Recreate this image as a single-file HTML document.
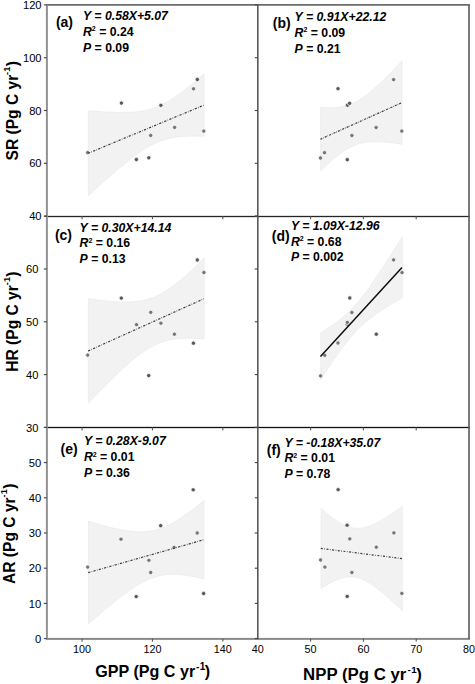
<!DOCTYPE html>
<html><head><meta charset="utf-8"><style>
html,body{margin:0;padding:0;background:#fff;}
body{width:475px;height:684px;overflow:hidden;}
svg{display:block;font-family:"Liberation Sans",sans-serif;}
text{fill:#000;}
</style></head><body>
<svg width="475" height="684" viewBox="0 0 475 684">
<rect width="475" height="684" fill="#fff"/>
<path d="M88.30,110.63 L91.19,110.88 L94.09,111.12 L96.98,111.35 L99.88,111.56 L102.78,111.76 L105.67,111.94 L108.56,112.10 L111.46,112.23 L114.36,112.34 L117.25,112.41 L120.15,112.46 L123.04,112.46 L125.94,112.42 L128.83,112.32 L131.73,112.17 L134.62,111.95 L137.52,111.65 L140.41,111.27 L143.31,110.78 L146.20,110.19 L149.10,109.48 L151.99,108.63 L154.88,107.65 L157.78,106.53 L160.68,105.26 L163.57,103.84 L166.47,102.29 L169.36,100.61 L172.25,98.80 L175.15,96.89 L178.05,94.87 L180.94,92.77 L183.84,90.59 L186.73,88.34 L189.62,86.03 L192.52,83.67 L195.42,81.27 L198.31,78.82 L201.21,76.34 L204.10,73.83 L204.10,136.32 L201.21,136.22 L198.31,136.15 L195.42,136.11 L192.52,136.11 L189.62,136.15 L186.73,136.25 L183.84,136.41 L180.94,136.64 L178.05,136.94 L175.15,137.33 L172.25,137.83 L169.36,138.43 L166.47,139.15 L163.57,140.01 L160.68,141.00 L157.78,142.14 L154.88,143.42 L151.99,144.84 L149.10,146.41 L146.20,148.10 L143.31,149.92 L140.41,151.84 L137.52,153.86 L134.62,155.97 L131.73,158.16 L128.83,160.41 L125.94,162.72 L123.04,165.09 L120.15,167.50 L117.25,169.95 L114.36,172.43 L111.46,174.95 L108.56,177.49 L105.67,180.05 L102.78,182.64 L99.88,185.24 L96.98,187.86 L94.09,190.50 L91.19,193.15 L88.30,195.81 Z" fill="#f2f2f2" stroke="#e4e4e4" stroke-width="0.5"/>
<path d="M320.60,107.27 L322.64,107.44 L324.67,107.57 L326.71,107.66 L328.75,107.71 L330.79,107.71 L332.82,107.66 L334.86,107.55 L336.90,107.38 L338.94,107.13 L340.97,106.81 L343.01,106.41 L345.05,105.92 L347.09,105.34 L349.12,104.66 L351.16,103.88 L353.20,103.00 L355.24,102.01 L357.27,100.92 L359.31,99.74 L361.35,98.46 L363.39,97.08 L365.43,95.63 L367.46,94.09 L369.50,92.48 L371.54,90.80 L373.57,89.06 L375.61,87.26 L377.65,85.41 L379.69,83.52 L381.73,81.58 L383.76,79.61 L385.80,77.60 L387.84,75.57 L389.88,73.50 L391.91,71.41 L393.95,69.30 L395.99,67.17 L398.03,65.02 L400.06,62.85 L402.10,60.67 L402.10,144.46 L400.06,144.10 L398.03,143.76 L395.99,143.44 L393.95,143.14 L391.91,142.85 L389.88,142.59 L387.84,142.35 L385.80,142.14 L383.76,141.97 L381.73,141.82 L379.69,141.71 L377.65,141.65 L375.61,141.62 L373.57,141.65 L371.54,141.74 L369.50,141.89 L367.46,142.10 L365.43,142.39 L363.39,142.76 L361.35,143.22 L359.31,143.76 L357.27,144.41 L355.24,145.15 L353.20,145.99 L351.16,146.93 L349.12,147.98 L347.09,149.13 L345.05,150.37 L343.01,151.71 L340.97,153.13 L338.94,154.64 L336.90,156.22 L334.86,157.88 L332.82,159.60 L330.79,161.37 L328.75,163.20 L326.71,165.08 L324.67,167.00 L322.64,168.95 L320.60,170.95 Z" fill="#f2f2f2" stroke="#e4e4e4" stroke-width="0.5"/>
<path d="M88.30,298.52 L91.20,298.96 L94.09,299.38 L96.99,299.78 L99.89,300.16 L102.79,300.51 L105.69,300.83 L108.58,301.13 L111.48,301.39 L114.38,301.61 L117.28,301.79 L120.17,301.93 L123.07,302.00 L125.97,302.02 L128.87,301.96 L131.76,301.82 L134.66,301.60 L137.56,301.27 L140.46,300.84 L143.35,300.28 L146.25,299.59 L149.15,298.76 L152.05,297.78 L154.94,296.64 L157.84,295.34 L160.74,293.88 L163.63,292.26 L166.53,290.49 L169.43,288.58 L172.33,286.53 L175.23,284.36 L178.12,282.08 L181.02,279.70 L183.92,277.23 L186.81,274.68 L189.71,272.06 L192.61,269.38 L195.51,266.64 L198.41,263.85 L201.30,261.02 L204.20,258.15 L204.20,339.18 L201.30,338.92 L198.41,338.70 L195.51,338.53 L192.61,338.40 L189.71,338.33 L186.81,338.32 L183.92,338.38 L181.02,338.52 L178.12,338.76 L175.23,339.09 L172.33,339.53 L169.43,340.10 L166.53,340.80 L163.63,341.64 L160.74,342.64 L157.84,343.79 L154.94,345.10 L152.05,346.57 L149.15,348.20 L146.25,349.98 L143.35,351.90 L140.46,353.96 L137.56,356.14 L134.66,358.43 L131.76,360.81 L128.87,363.29 L125.97,365.85 L123.07,368.47 L120.17,371.16 L117.28,373.90 L114.38,376.70 L111.48,379.53 L108.58,382.40 L105.69,385.31 L102.79,388.25 L99.89,391.22 L96.99,394.20 L94.09,397.22 L91.20,400.25 L88.30,403.29 Z" fill="#f2f2f2" stroke="#e4e4e4" stroke-width="0.5"/>
<path d="M320.70,332.83 L322.74,331.55 L324.78,330.24 L326.82,328.91 L328.86,327.56 L330.90,326.17 L332.94,324.74 L334.98,323.28 L337.02,321.77 L339.06,320.20 L341.10,318.58 L343.14,316.88 L345.18,315.12 L347.22,313.27 L349.26,311.33 L351.30,309.30 L353.34,307.18 L355.38,304.95 L357.42,302.62 L359.46,300.19 L361.50,297.67 L363.54,295.07 L365.58,292.38 L367.62,289.61 L369.66,286.79 L371.70,283.90 L373.74,280.96 L375.78,277.97 L377.82,274.94 L379.86,271.88 L381.90,268.78 L383.94,265.66 L385.98,262.51 L388.02,259.34 L390.06,256.15 L392.10,252.95 L394.14,249.73 L396.18,246.49 L398.22,243.25 L400.26,239.99 L402.30,236.73 L402.30,297.82 L400.26,299.00 L398.22,300.20 L396.18,301.40 L394.14,302.62 L392.10,303.85 L390.06,305.10 L388.02,306.36 L385.98,307.64 L383.94,308.94 L381.90,310.27 L379.86,311.62 L377.82,313.01 L375.78,314.43 L373.74,315.90 L371.70,317.41 L369.66,318.97 L367.62,320.59 L365.58,322.28 L363.54,324.04 L361.50,325.88 L359.46,327.81 L357.42,329.84 L355.38,331.96 L353.34,334.18 L351.30,336.50 L349.26,338.92 L347.22,341.44 L345.18,344.04 L343.14,346.72 L341.10,349.48 L339.06,352.31 L337.02,355.19 L334.98,358.13 L332.94,361.12 L330.90,364.14 L328.86,367.20 L326.82,370.30 L324.78,373.42 L322.74,376.57 L320.70,379.73 Z" fill="#f2f2f2" stroke="#e4e4e4" stroke-width="0.5"/>
<path d="M88.40,521.12 L91.29,522.00 L94.18,522.88 L97.07,523.73 L99.96,524.56 L102.85,525.37 L105.74,526.15 L108.63,526.91 L111.52,527.63 L114.41,528.32 L117.30,528.96 L120.19,529.56 L123.08,530.10 L125.97,530.59 L128.86,531.01 L131.75,531.35 L134.64,531.61 L137.53,531.77 L140.42,531.83 L143.31,531.76 L146.20,531.57 L149.09,531.24 L151.98,530.76 L154.87,530.13 L157.76,529.34 L160.65,528.40 L163.54,527.30 L166.43,526.04 L169.32,524.65 L172.21,523.12 L175.10,521.47 L177.99,519.71 L180.88,517.85 L183.77,515.90 L186.66,513.87 L189.55,511.76 L192.44,509.60 L195.33,507.38 L198.22,505.11 L201.11,502.80 L204.00,500.45 L204.00,578.98 L201.11,578.27 L198.22,577.60 L195.33,576.97 L192.44,576.39 L189.55,575.87 L186.66,575.41 L183.77,575.02 L180.88,574.71 L177.99,574.49 L175.10,574.37 L172.21,574.37 L169.32,574.48 L166.43,574.73 L163.54,575.11 L160.65,575.65 L157.76,576.35 L154.87,577.20 L151.98,578.21 L149.09,579.37 L146.20,580.69 L143.31,582.14 L140.42,583.72 L137.53,585.41 L134.64,587.21 L131.75,589.11 L128.86,591.10 L125.97,593.16 L123.08,595.29 L120.19,597.47 L117.30,599.71 L114.41,602.00 L111.52,604.32 L108.63,606.69 L105.74,609.08 L102.85,611.51 L99.96,613.96 L97.07,616.43 L94.18,618.93 L91.29,621.44 L88.40,623.97 Z" fill="#f2f2f2" stroke="#e4e4e4" stroke-width="0.5"/>
<path d="M321.00,508.41 L323.03,510.18 L325.06,511.92 L327.10,513.60 L329.13,515.24 L331.16,516.82 L333.19,518.34 L335.23,519.79 L337.26,521.16 L339.29,522.43 L341.32,523.61 L343.36,524.67 L345.39,525.62 L347.42,526.43 L349.45,527.11 L351.49,527.63 L353.52,528.01 L355.55,528.23 L357.58,528.30 L359.62,528.22 L361.65,528.00 L363.68,527.63 L365.72,527.15 L367.75,526.54 L369.78,525.83 L371.81,525.03 L373.85,524.14 L375.88,523.17 L377.91,522.13 L379.94,521.04 L381.98,519.89 L384.01,518.69 L386.04,517.45 L388.07,516.17 L390.11,514.86 L392.14,513.52 L394.17,512.15 L396.20,510.75 L398.24,509.34 L400.27,507.90 L402.30,506.45 L402.30,610.82 L400.27,608.86 L398.24,606.92 L396.20,604.99 L394.17,603.09 L392.14,601.21 L390.11,599.35 L388.07,597.53 L386.04,595.74 L384.01,593.99 L381.98,592.28 L379.94,590.62 L377.91,589.01 L375.88,587.47 L373.85,585.99 L371.81,584.59 L369.78,583.27 L367.75,582.05 L365.72,580.94 L363.68,579.94 L361.65,579.07 L359.62,578.33 L357.58,577.74 L355.55,577.30 L353.52,577.01 L351.49,576.88 L349.45,576.89 L347.42,577.06 L345.39,577.36 L343.36,577.79 L341.32,578.35 L339.29,579.01 L337.26,579.78 L335.23,580.64 L333.19,581.57 L331.16,582.58 L329.13,583.65 L327.10,584.78 L325.06,585.96 L323.03,587.18 L321.00,588.44 Z" fill="#f2f2f2" stroke="#e4e4e4" stroke-width="0.5"/>
<circle cx="87.70" cy="152.60" r="2.15" fill="#767676" stroke="#fff" stroke-opacity="0.95" stroke-width="0.8"/>
<circle cx="121.40" cy="103.10" r="2.15" fill="#585858" stroke="#fff" stroke-opacity="0.95" stroke-width="0.8"/>
<circle cx="136.40" cy="159.50" r="2.15" fill="#585858" stroke="#fff" stroke-opacity="0.95" stroke-width="0.8"/>
<circle cx="148.80" cy="157.80" r="2.15" fill="#585858" stroke="#fff" stroke-opacity="0.95" stroke-width="0.8"/>
<circle cx="150.70" cy="135.40" r="2.15" fill="#767676" stroke="#fff" stroke-opacity="0.95" stroke-width="0.8"/>
<circle cx="160.90" cy="105.30" r="2.15" fill="#585858" stroke="#fff" stroke-opacity="0.95" stroke-width="0.8"/>
<circle cx="174.60" cy="127.40" r="2.15" fill="#767676" stroke="#fff" stroke-opacity="0.95" stroke-width="0.8"/>
<circle cx="193.50" cy="88.80" r="2.15" fill="#767676" stroke="#fff" stroke-opacity="0.95" stroke-width="0.8"/>
<circle cx="197.30" cy="79.50" r="2.15" fill="#585858" stroke="#fff" stroke-opacity="0.95" stroke-width="0.8"/>
<circle cx="203.80" cy="131.10" r="2.15" fill="#767676" stroke="#fff" stroke-opacity="0.95" stroke-width="0.8"/>
<circle cx="320.50" cy="158.00" r="2.15" fill="#767676" stroke="#fff" stroke-opacity="0.95" stroke-width="0.8"/>
<circle cx="324.50" cy="152.70" r="2.15" fill="#767676" stroke="#fff" stroke-opacity="0.95" stroke-width="0.8"/>
<circle cx="338.00" cy="88.70" r="2.15" fill="#585858" stroke="#fff" stroke-opacity="0.95" stroke-width="0.8"/>
<circle cx="347.30" cy="159.70" r="2.15" fill="#585858" stroke="#fff" stroke-opacity="0.95" stroke-width="0.8"/>
<circle cx="347.50" cy="105.20" r="2.15" fill="#585858" stroke="#fff" stroke-opacity="0.95" stroke-width="0.8"/>
<circle cx="349.60" cy="103.30" r="2.15" fill="#585858" stroke="#fff" stroke-opacity="0.95" stroke-width="0.8"/>
<circle cx="351.90" cy="135.50" r="2.15" fill="#767676" stroke="#fff" stroke-opacity="0.95" stroke-width="0.8"/>
<circle cx="376.10" cy="127.50" r="2.15" fill="#767676" stroke="#fff" stroke-opacity="0.95" stroke-width="0.8"/>
<circle cx="393.60" cy="79.60" r="2.15" fill="#767676" stroke="#fff" stroke-opacity="0.95" stroke-width="0.8"/>
<circle cx="401.80" cy="131.10" r="2.15" fill="#767676" stroke="#fff" stroke-opacity="0.95" stroke-width="0.8"/>
<circle cx="87.70" cy="355.10" r="2.15" fill="#767676" stroke="#fff" stroke-opacity="0.95" stroke-width="0.8"/>
<circle cx="121.30" cy="298.10" r="2.15" fill="#585858" stroke="#fff" stroke-opacity="0.95" stroke-width="0.8"/>
<circle cx="136.50" cy="324.70" r="2.15" fill="#767676" stroke="#fff" stroke-opacity="0.95" stroke-width="0.8"/>
<circle cx="148.70" cy="375.60" r="2.15" fill="#585858" stroke="#fff" stroke-opacity="0.95" stroke-width="0.8"/>
<circle cx="150.80" cy="312.30" r="2.15" fill="#767676" stroke="#fff" stroke-opacity="0.95" stroke-width="0.8"/>
<circle cx="160.90" cy="323.20" r="2.15" fill="#767676" stroke="#fff" stroke-opacity="0.95" stroke-width="0.8"/>
<circle cx="174.40" cy="334.20" r="2.15" fill="#767676" stroke="#fff" stroke-opacity="0.95" stroke-width="0.8"/>
<circle cx="193.40" cy="343.20" r="2.15" fill="#585858" stroke="#fff" stroke-opacity="0.95" stroke-width="0.8"/>
<circle cx="197.30" cy="260.00" r="2.15" fill="#585858" stroke="#fff" stroke-opacity="0.95" stroke-width="0.8"/>
<circle cx="203.90" cy="272.50" r="2.15" fill="#767676" stroke="#fff" stroke-opacity="0.95" stroke-width="0.8"/>
<circle cx="320.60" cy="375.90" r="2.15" fill="#767676" stroke="#fff" stroke-opacity="0.95" stroke-width="0.8"/>
<circle cx="324.80" cy="355.30" r="2.15" fill="#767676" stroke="#fff" stroke-opacity="0.95" stroke-width="0.8"/>
<circle cx="338.00" cy="343.00" r="2.15" fill="#767676" stroke="#fff" stroke-opacity="0.95" stroke-width="0.8"/>
<circle cx="347.10" cy="324.20" r="2.15" fill="#767676" stroke="#fff" stroke-opacity="0.95" stroke-width="0.8"/>
<circle cx="347.30" cy="322.40" r="2.15" fill="#767676" stroke="#fff" stroke-opacity="0.95" stroke-width="0.8"/>
<circle cx="349.80" cy="298.00" r="2.15" fill="#585858" stroke="#fff" stroke-opacity="0.95" stroke-width="0.8"/>
<circle cx="351.90" cy="312.50" r="2.15" fill="#767676" stroke="#fff" stroke-opacity="0.95" stroke-width="0.8"/>
<circle cx="376.30" cy="334.20" r="2.15" fill="#585858" stroke="#fff" stroke-opacity="0.95" stroke-width="0.8"/>
<circle cx="393.60" cy="259.90" r="2.15" fill="#767676" stroke="#fff" stroke-opacity="0.95" stroke-width="0.8"/>
<circle cx="402.00" cy="272.60" r="2.15" fill="#767676" stroke="#fff" stroke-opacity="0.95" stroke-width="0.8"/>
<circle cx="87.70" cy="567.10" r="2.15" fill="#767676" stroke="#fff" stroke-opacity="0.95" stroke-width="0.8"/>
<circle cx="121.00" cy="539.20" r="2.15" fill="#767676" stroke="#fff" stroke-opacity="0.95" stroke-width="0.8"/>
<circle cx="136.20" cy="596.60" r="2.15" fill="#585858" stroke="#fff" stroke-opacity="0.95" stroke-width="0.8"/>
<circle cx="148.90" cy="560.30" r="2.15" fill="#767676" stroke="#fff" stroke-opacity="0.95" stroke-width="0.8"/>
<circle cx="150.70" cy="572.50" r="2.15" fill="#767676" stroke="#fff" stroke-opacity="0.95" stroke-width="0.8"/>
<circle cx="160.70" cy="525.70" r="2.15" fill="#585858" stroke="#fff" stroke-opacity="0.95" stroke-width="0.8"/>
<circle cx="174.10" cy="547.40" r="2.15" fill="#767676" stroke="#fff" stroke-opacity="0.95" stroke-width="0.8"/>
<circle cx="193.20" cy="489.80" r="2.15" fill="#585858" stroke="#fff" stroke-opacity="0.95" stroke-width="0.8"/>
<circle cx="197.20" cy="533.00" r="2.15" fill="#767676" stroke="#fff" stroke-opacity="0.95" stroke-width="0.8"/>
<circle cx="203.60" cy="593.50" r="2.15" fill="#585858" stroke="#fff" stroke-opacity="0.95" stroke-width="0.8"/>
<circle cx="320.60" cy="560.00" r="2.15" fill="#767676" stroke="#fff" stroke-opacity="0.95" stroke-width="0.8"/>
<circle cx="324.90" cy="567.10" r="2.15" fill="#767676" stroke="#fff" stroke-opacity="0.95" stroke-width="0.8"/>
<circle cx="338.10" cy="489.70" r="2.15" fill="#585858" stroke="#fff" stroke-opacity="0.95" stroke-width="0.8"/>
<circle cx="347.10" cy="525.20" r="2.15" fill="#585858" stroke="#fff" stroke-opacity="0.95" stroke-width="0.8"/>
<circle cx="347.20" cy="596.40" r="2.15" fill="#585858" stroke="#fff" stroke-opacity="0.95" stroke-width="0.8"/>
<circle cx="349.80" cy="538.90" r="2.15" fill="#767676" stroke="#fff" stroke-opacity="0.95" stroke-width="0.8"/>
<circle cx="351.90" cy="572.50" r="2.15" fill="#767676" stroke="#fff" stroke-opacity="0.95" stroke-width="0.8"/>
<circle cx="376.30" cy="547.20" r="2.15" fill="#767676" stroke="#fff" stroke-opacity="0.95" stroke-width="0.8"/>
<circle cx="393.90" cy="532.90" r="2.15" fill="#767676" stroke="#fff" stroke-opacity="0.95" stroke-width="0.8"/>
<circle cx="401.80" cy="593.40" r="2.15" fill="#767676" stroke="#fff" stroke-opacity="0.95" stroke-width="0.8"/>
<line x1="88.10" y1="153.30" x2="203.80" y2="105.20" stroke="#3a3a3a" stroke-width="1.2" stroke-dasharray="2.2 1.35 0.6 1.35"/>
<line x1="320.40" y1="139.20" x2="401.80" y2="102.70" stroke="#3a3a3a" stroke-width="1.2" stroke-dasharray="2.0 1.0 0.6 1.2"/>
<line x1="88.10" y1="351.00" x2="203.90" y2="298.80" stroke="#3a3a3a" stroke-width="1.2" stroke-dasharray="2.2 1.35 0.6 1.35"/>
<line x1="320.50" y1="356.50" x2="402.00" y2="267.60" stroke="#0a0a0a" stroke-width="1.45"/>
<line x1="88.20" y1="572.60" x2="203.70" y2="539.80" stroke="#3a3a3a" stroke-width="1.2" stroke-dasharray="2.2 1.35 0.6 1.35"/>
<line x1="320.80" y1="548.40" x2="402.00" y2="558.60" stroke="#3a3a3a" stroke-width="1.2" stroke-dasharray="2.0 1.5 0.7 1.5"/>
<rect x="46.10" y="4.25" width="423.70" height="1.30" fill="#3a3a3a"/>
<rect x="46.10" y="215.85" width="423.70" height="1.30" fill="#262626"/>
<rect x="46.10" y="426.85" width="423.70" height="1.30" fill="#111111"/>
<rect x="46.10" y="637.90" width="423.70" height="2.00" fill="#8a8a8a"/>
<rect x="45.90" y="4.90" width="2.00" height="634.30" fill="#929292"/>
<rect x="257.00" y="4.90" width="1.60" height="634.30" fill="#5a5a5a"/>
<rect x="468.20" y="4.90" width="1.60" height="634.30" fill="#5a5a5a"/>
<rect x="81.53" y="216.20" width="1.10" height="3.00" fill="#555"/>
<rect x="151.90" y="216.20" width="1.10" height="3.00" fill="#555"/>
<rect x="222.27" y="216.20" width="1.10" height="3.00" fill="#555"/>
<rect x="310.05" y="216.20" width="1.10" height="3.00" fill="#555"/>
<rect x="362.85" y="216.20" width="1.10" height="3.00" fill="#555"/>
<rect x="415.65" y="216.20" width="1.10" height="3.00" fill="#555"/>
<rect x="81.53" y="427.40" width="1.10" height="3.00" fill="#555"/>
<rect x="151.90" y="427.40" width="1.10" height="3.00" fill="#555"/>
<rect x="222.27" y="427.40" width="1.10" height="3.00" fill="#555"/>
<rect x="310.05" y="427.40" width="1.10" height="3.00" fill="#555"/>
<rect x="362.85" y="427.40" width="1.10" height="3.00" fill="#555"/>
<rect x="415.65" y="427.40" width="1.10" height="3.00" fill="#555"/>
<rect x="81.53" y="638.60" width="1.10" height="3.00" fill="#555"/>
<rect x="151.90" y="638.60" width="1.10" height="3.00" fill="#555"/>
<rect x="222.27" y="638.60" width="1.10" height="3.00" fill="#555"/>
<rect x="310.05" y="638.60" width="1.10" height="3.00" fill="#555"/>
<rect x="362.85" y="638.60" width="1.10" height="3.00" fill="#555"/>
<rect x="415.65" y="638.60" width="1.10" height="3.00" fill="#555"/>
<rect x="43.90" y="4.35" width="3.00" height="1.10" fill="#444"/>
<rect x="43.90" y="57.15" width="3.00" height="1.10" fill="#444"/>
<rect x="43.90" y="109.95" width="3.00" height="1.10" fill="#444"/>
<rect x="43.90" y="162.75" width="3.00" height="1.10" fill="#444"/>
<rect x="43.90" y="215.55" width="3.00" height="1.10" fill="#444"/>
<rect x="254.80" y="4.35" width="3.00" height="1.10" fill="#444"/>
<rect x="254.80" y="57.15" width="3.00" height="1.10" fill="#444"/>
<rect x="254.80" y="109.95" width="3.00" height="1.10" fill="#444"/>
<rect x="254.80" y="162.75" width="3.00" height="1.10" fill="#444"/>
<rect x="254.80" y="215.55" width="3.00" height="1.10" fill="#444"/>
<rect x="43.90" y="215.65" width="3.00" height="1.10" fill="#444"/>
<rect x="43.90" y="268.45" width="3.00" height="1.10" fill="#444"/>
<rect x="43.90" y="321.25" width="3.00" height="1.10" fill="#444"/>
<rect x="43.90" y="374.05" width="3.00" height="1.10" fill="#444"/>
<rect x="43.90" y="426.85" width="3.00" height="1.10" fill="#444"/>
<rect x="254.80" y="215.65" width="3.00" height="1.10" fill="#444"/>
<rect x="254.80" y="268.45" width="3.00" height="1.10" fill="#444"/>
<rect x="254.80" y="321.25" width="3.00" height="1.10" fill="#444"/>
<rect x="254.80" y="374.05" width="3.00" height="1.10" fill="#444"/>
<rect x="254.80" y="426.85" width="3.00" height="1.10" fill="#444"/>
<rect x="43.90" y="426.85" width="3.00" height="1.10" fill="#444"/>
<rect x="43.90" y="462.05" width="3.00" height="1.10" fill="#444"/>
<rect x="43.90" y="497.25" width="3.00" height="1.10" fill="#444"/>
<rect x="43.90" y="532.45" width="3.00" height="1.10" fill="#444"/>
<rect x="43.90" y="567.65" width="3.00" height="1.10" fill="#444"/>
<rect x="43.90" y="602.85" width="3.00" height="1.10" fill="#444"/>
<rect x="43.90" y="638.05" width="3.00" height="1.10" fill="#444"/>
<rect x="254.80" y="426.85" width="3.00" height="1.10" fill="#444"/>
<rect x="254.80" y="462.05" width="3.00" height="1.10" fill="#444"/>
<rect x="254.80" y="497.25" width="3.00" height="1.10" fill="#444"/>
<rect x="254.80" y="532.45" width="3.00" height="1.10" fill="#444"/>
<rect x="254.80" y="567.65" width="3.00" height="1.10" fill="#444"/>
<rect x="254.80" y="602.85" width="3.00" height="1.10" fill="#444"/>
<rect x="254.80" y="638.05" width="3.00" height="1.10" fill="#444"/>
<text x="41.60" y="9.00" font-size="11.20" text-anchor="end" font-weight="normal" font-style="normal" >120</text>
<text x="41.60" y="61.80" font-size="11.20" text-anchor="end" font-weight="normal" font-style="normal" >100</text>
<text x="41.60" y="114.60" font-size="11.20" text-anchor="end" font-weight="normal" font-style="normal" >80</text>
<text x="41.60" y="167.40" font-size="11.20" text-anchor="end" font-weight="normal" font-style="normal" >60</text>
<text x="41.60" y="220.20" font-size="11.20" text-anchor="end" font-weight="normal" font-style="normal" >40</text>
<text x="38.40" y="273.10" font-size="11.20" text-anchor="end" font-weight="normal" font-style="normal" >60</text>
<text x="38.40" y="325.90" font-size="11.20" text-anchor="end" font-weight="normal" font-style="normal" >50</text>
<text x="38.40" y="378.70" font-size="11.20" text-anchor="end" font-weight="normal" font-style="normal" >40</text>
<text x="38.40" y="431.50" font-size="11.20" text-anchor="end" font-weight="normal" font-style="normal" >30</text>
<text x="41.20" y="466.70" font-size="11.20" text-anchor="end" font-weight="normal" font-style="normal" >50</text>
<text x="41.20" y="501.90" font-size="11.20" text-anchor="end" font-weight="normal" font-style="normal" >40</text>
<text x="41.20" y="537.10" font-size="11.20" text-anchor="end" font-weight="normal" font-style="normal" >30</text>
<text x="41.20" y="572.30" font-size="11.20" text-anchor="end" font-weight="normal" font-style="normal" >20</text>
<text x="41.20" y="607.50" font-size="11.20" text-anchor="end" font-weight="normal" font-style="normal" >10</text>
<text x="41.20" y="642.70" font-size="11.20" text-anchor="end" font-weight="normal" font-style="normal" >0</text>
<text x="82.08" y="653.20" font-size="10.80" text-anchor="middle" font-weight="normal" font-style="normal" >100</text>
<text x="152.45" y="653.20" font-size="10.80" text-anchor="middle" font-weight="normal" font-style="normal" >120</text>
<text x="222.82" y="653.20" font-size="10.80" text-anchor="middle" font-weight="normal" font-style="normal" >140</text>
<text x="257.80" y="653.20" font-size="10.80" text-anchor="middle" font-weight="normal" font-style="normal" >40</text>
<text x="310.60" y="653.20" font-size="10.80" text-anchor="middle" font-weight="normal" font-style="normal" >50</text>
<text x="363.40" y="653.20" font-size="10.80" text-anchor="middle" font-weight="normal" font-style="normal" >60</text>
<text x="416.20" y="653.20" font-size="10.80" text-anchor="middle" font-weight="normal" font-style="normal" >70</text>
<text x="469.00" y="653.20" font-size="10.80" text-anchor="middle" font-weight="normal" font-style="normal" >80</text>
<text x="95.30" y="677.30" font-size="16.10" font-weight="bold">GPP (Pg C yr<tspan font-size="10.00" dx="0.90" dy="-7.00">-</tspan><tspan font-size="10.00" dx="0.30">1</tspan><tspan dx="-0.50" dy="7.00">)</tspan></text>
<text x="303.10" y="680.20" font-size="16.80" font-weight="bold">NPP (Pg C yr<tspan font-size="9.80" dx="1.10" dy="-7.20">-</tspan><tspan font-size="9.80" dx="0.50">1</tspan><tspan dx="-0.40" dy="7.20">)</tspan></text>
<text transform="translate(18.00,160.50) rotate(-90)" x="0" y="0" font-size="15.60" font-weight="bold">SR (Pg C yr<tspan font-size="9.20" dx="-0.20" dy="-8.00">-</tspan><tspan font-size="9.20" dx="0.20">1</tspan><tspan dx="0.30" dy="8.00">)</tspan></text>
<text transform="translate(18.00,371.80) rotate(-90)" x="0" y="0" font-size="15.60" font-weight="bold">HR (Pg C yr<tspan font-size="9.20" dx="-0.20" dy="-8.00">-</tspan><tspan font-size="9.20" dx="0.20">1</tspan><tspan dx="0.30" dy="8.00">)</tspan></text>
<text transform="translate(15.00,584.00) rotate(-90)" x="0" y="0" font-size="15.60" font-weight="bold">AR (Pg C yr<tspan font-size="9.20" dx="-0.20" dy="-8.00">-</tspan><tspan font-size="9.20" dx="0.20">1</tspan><tspan dx="0.30" dy="8.00">)</tspan></text>
<text x="55.90" y="27.00" font-size="14.00" text-anchor="start" font-weight="bold" font-style="normal" >(a)</text>
<text x="83.00" y="19.70" font-size="12.25" text-anchor="start" font-weight="bold" font-style="italic" >Y = 0.58X+5.07</text>
<text x="83.00" y="35.60" font-size="12.25" text-anchor="start" font-weight="bold" font-style="normal" ><tspan font-style="italic">R</tspan><tspan font-size="7" dy="-4.5">2</tspan><tspan dy="4.5"> = 0.24</tspan></text>
<text x="83.00" y="51.50" font-size="12.25" text-anchor="start" font-weight="bold" font-style="normal" ><tspan font-style="italic">P</tspan> = 0.09</text>
<text x="272.80" y="28.20" font-size="14.00" text-anchor="start" font-weight="bold" font-style="normal" >(b)</text>
<text x="294.60" y="20.90" font-size="12.25" text-anchor="start" font-weight="bold" font-style="italic" >Y = 0.91X+22.12</text>
<text x="294.60" y="36.80" font-size="12.25" text-anchor="start" font-weight="bold" font-style="normal" ><tspan font-style="italic">R</tspan><tspan font-size="7" dy="-4.5">2</tspan><tspan dy="4.5"> = 0.09</tspan></text>
<text x="294.60" y="52.70" font-size="12.25" text-anchor="start" font-weight="bold" font-style="normal" ><tspan font-style="italic">P</tspan> = 0.21</text>
<text x="54.90" y="239.90" font-size="14.00" text-anchor="start" font-weight="bold" font-style="normal" >(c)</text>
<text x="79.60" y="231.50" font-size="12.25" text-anchor="start" font-weight="bold" font-style="italic" >Y = 0.30X+14.14</text>
<text x="79.60" y="247.40" font-size="12.25" text-anchor="start" font-weight="bold" font-style="normal" ><tspan font-style="italic">R</tspan><tspan font-size="7" dy="-4.5">2</tspan><tspan dy="4.5"> = 0.16</tspan></text>
<text x="79.60" y="263.30" font-size="12.25" text-anchor="start" font-weight="bold" font-style="normal" ><tspan font-style="italic">P</tspan> = 0.13</text>
<text x="271.80" y="240.70" font-size="14.00" text-anchor="start" font-weight="bold" font-style="normal" >(d)</text>
<text x="290.90" y="229.60" font-size="12.25" text-anchor="start" font-weight="bold" font-style="italic" >Y = 1.09X-12.96</text>
<text x="290.90" y="245.50" font-size="12.25" text-anchor="start" font-weight="bold" font-style="normal" ><tspan font-style="italic">R</tspan><tspan font-size="7" dy="-4.5">2</tspan><tspan dy="4.5"> = 0.68</tspan></text>
<text x="290.90" y="261.40" font-size="12.25" text-anchor="start" font-weight="bold" font-style="normal" ><tspan font-style="italic">P</tspan> = 0.002</text>
<text x="60.60" y="453.90" font-size="14.00" text-anchor="start" font-weight="bold" font-style="normal" >(e)</text>
<text x="83.90" y="445.40" font-size="12.25" text-anchor="start" font-weight="bold" font-style="italic" >Y = 0.28X-9.07</text>
<text x="83.90" y="461.30" font-size="12.25" text-anchor="start" font-weight="bold" font-style="normal" ><tspan font-style="italic">R</tspan><tspan font-size="7" dy="-4.5">2</tspan><tspan dy="4.5"> = 0.01</tspan></text>
<text x="83.90" y="477.20" font-size="12.25" text-anchor="start" font-weight="bold" font-style="normal" ><tspan font-style="italic">P</tspan> = 0.36</text>
<text x="266.80" y="454.60" font-size="14.00" text-anchor="start" font-weight="bold" font-style="normal" >(f)</text>
<text x="284.40" y="446.50" font-size="12.25" text-anchor="start" font-weight="bold" font-style="italic" >Y = -0.18X+35.07</text>
<text x="284.40" y="462.40" font-size="12.25" text-anchor="start" font-weight="bold" font-style="normal" ><tspan font-style="italic">R</tspan><tspan font-size="7" dy="-4.5">2</tspan><tspan dy="4.5"> = 0.01</tspan></text>
<text x="284.40" y="478.30" font-size="12.25" text-anchor="start" font-weight="bold" font-style="normal" ><tspan font-style="italic">P</tspan> = 0.78</text>
</svg>
</body></html>
